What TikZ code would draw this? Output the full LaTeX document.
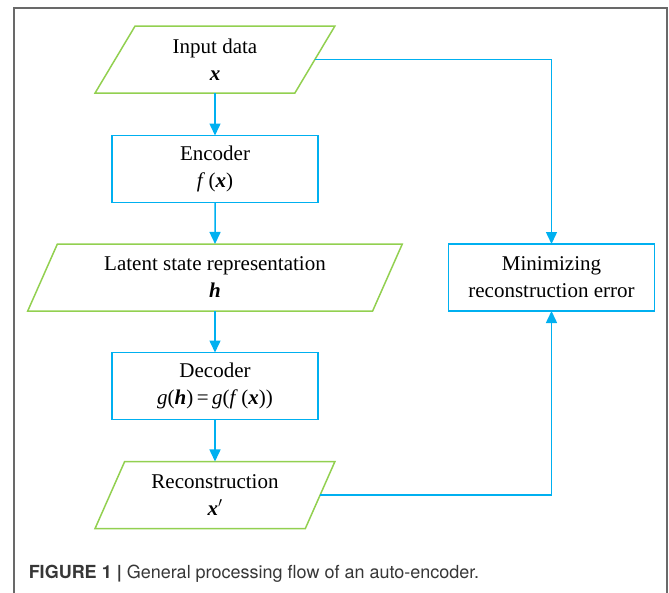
\documentclass[tikz,border=0pt]{standalone}
\usepackage{fontspec}
\setmainfont{Liberation Serif}
\newfontfamily\capfont{TeX Gyre Heros}
\usetikzlibrary{shapes.geometric,arrows.meta}
\definecolor{flowblue}{RGB}{0,176,240}
\definecolor{flowgreen}{RGB}{146,208,80}
\definecolor{framegray}{RGB}{105,105,105}
\definecolor{capgray}{RGB}{55,55,55}
\newcommand{\bx}{\textbf{\textit{x}}}

\begin{document}
\begin{tikzpicture}[x=1pt,y=-1pt,line width=1.5pt,
        font=\fontsize{21}{27}\selectfont,
        io/.style={draw=flowgreen,trapezium,trapezium left angle=63,trapezium right angle=117,
            trapezium stretches,minimum height=67pt,inner sep=0pt,outer sep=0pt,align=center},
        proc/.style={draw=flowblue,rectangle,minimum width=206pt,minimum height=67pt,
            inner sep=0pt,outer sep=0pt,align=center},
        flow/.style={draw=flowblue,-{Triangle[width=11pt,length=12pt]}}]
        \useasboundingbox (0,0) rectangle (669,592);
        \draw[framegray,line width=2pt] (14,593) -- (14,8) -- (667,8) -- (667,593);

        \node[io,minimum width=240pt] (in) at (215,59.5) {Input data\\\bx};
        \node[proc] (enc) at (215,169) {Encoder\\\textit{f}\,(\bx)};
        \node[io,minimum width=376pt] (lat) at (215,277.5) {Latent state representation\\\textbf{\textit{h}}};
        \node[proc] (dec) at (215,386) {Decoder\\\textit{g}(\textbf{\textit{h}})\,=\,\textit{g}(\textit{f}\,(\bx))};
        \node[io,minimum width=240pt] (rec) at (215,495) {Reconstruction\\\bx$'$};
        \node[proc] (err) at (551.5,277.5) {Minimizing\\reconstruction error};

        \path[flow] (in) -- (enc);
        \path[flow] (enc) -- (lat);
        \path[flow] (lat) -- (dec);
        \path[flow] (dec) -- (rec);
        \path[flow] (in.east) -| (err);
        \path[flow] (rec.east) -| (err);

        % caption under the chart
        \node[anchor=base west,inner sep=0pt,text=capgray,font=\capfont\fontsize{18}{20}\selectfont] (cap) at (28,578)
            {\textbf{FIGURE 1 |} General processing flow of an auto-encoder.};
    \end{tikzpicture}
\end{document}
